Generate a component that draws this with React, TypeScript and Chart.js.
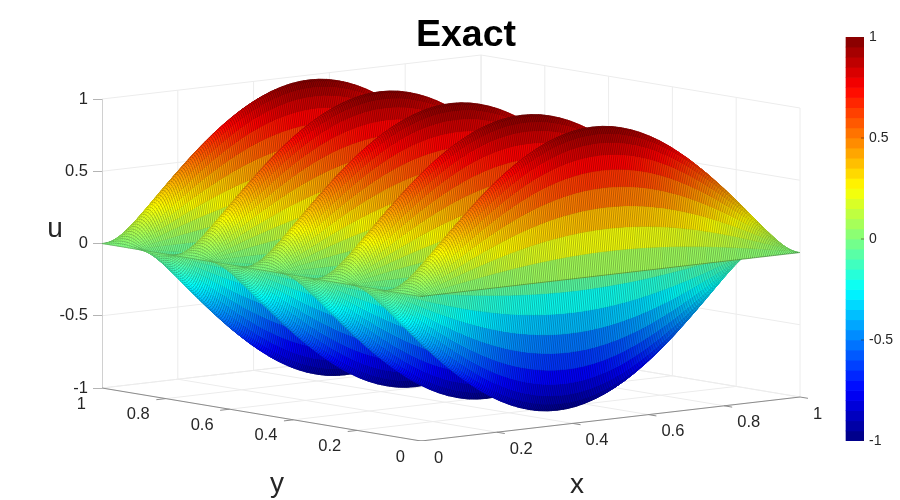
import React, { useEffect, useRef } from "react";
import { Chart, registerables } from "chart.js";

Chart.register(...registerables);

// ---- values ----
const xTicks = [0, 0.2, 0.4, 0.6, 0.8, 1];
const yTicks = [0, 0.2, 0.4, 0.6, 0.8, 1];
const uTicks = [-1, -0.5, 0, 0.5, 1];
const xStations = [
  0, 0.025, 0.05, 0.075, 0.1, 0.125, 0.15, 0.175, 0.2, 0.225, 0.25, 0.275, 0.3, 0.325, 0.35, 0.375, 0.4, 0.425, 0.45, 0.475, 0.5,
  0.525, 0.55, 0.575, 0.6, 0.625, 0.65, 0.675, 0.7, 0.725, 0.75, 0.775, 0.8, 0.825, 0.85, 0.875, 0.9, 0.925, 0.95, 0.975, 1,
];
const xProfile = [
  0, 0.078, 0.156, 0.233, 0.309, 0.383, 0.454, 0.522, 0.588, 0.649, 0.707, 0.76, 0.809, 0.853, 0.891, 0.924, 0.951, 0.972, 0.988, 0.997, 1,
  0.997, 0.988, 0.972, 0.951, 0.924, 0.891, 0.853, 0.809, 0.76, 0.707, 0.649, 0.588, 0.522, 0.454, 0.383, 0.309, 0.233, 0.156, 0.078, 0,
];
// one full wave along y, in 40 mesh steps
const yWaveCycle = [
  0, 0.156, 0.309, 0.454, 0.588, 0.707, 0.809, 0.891, 0.951, 0.988, 1, 0.988, 0.951, 0.891, 0.809, 0.707, 0.588, 0.454, 0.309, 0.156,
  0, -0.156, -0.309, -0.454, -0.588, -0.707, -0.809, -0.891, -0.951, -0.988, -1, -0.988, -0.951, -0.891, -0.809, -0.707, -0.588, -0.454, -0.309, -0.156,
];
const yMeshSteps = 180; // 4.5 waves over y = 0..1

const barLevelCount = 40;
const surfaceLevelCount = 256;

// ---- rendering constants ----
const FONT = '"Liberation Sans", Arial, sans-serif';
const INK = "#262626";
const GRID = "#ececec";
const AXIS = "#8c8c8c";
const X_SUBDIV = 5;

// view of the box: projected axis units of the chart's two scales
const project = (x: number, y: number, z: number) => ({
  x: 421 + 379 * x - 319 * y,
  y: z + (53 * (y - 1) + 44 * x) / 144.5,
});

const jet = (u: number, levels: number) => {
  const lvl = Math.min(levels - 1, Math.floor(((u + 1) / 2) * levels));
  const t = (lvl + 0.5) / levels;
  const c = (v: number) => Math.round(255 * Math.max(0, Math.min(1, v)));
  const r = c(Math.min(4 * t - 1.5, -4 * t + 4.5));
  const g = c(Math.min(4 * t - 0.5, -4 * t + 3.5));
  const b = c(Math.min(4 * t + 0.5, -4 * t + 2.5));
  return `rgb(${r},${g},${b})`;
};

// table of u on the mesh, built from the two profiles
const yNodes = Array.from({ length: yMeshSteps + 1 }, (_, k) => k);
const uTable = yNodes.map((k) => xProfile.map((p) => p * yWaveCycle[k % yWaveCycle.length]));

const line = (pts: number[][], color: string, width = 1) => ({
  type: "line",
  data: pts.map(([x, y, z]) => project(x, y, z)),
  borderColor: color,
  borderWidth: width,
  pointRadius: 0,
  fill: false,
  xAxisID: "x",
  yAxisID: "y",
});

const surfacePlugin = {
  id: "surface",
  beforeDatasetDraw(chart: any, args: any) {
    const ds = chart.data.datasets[args.index];
    if (ds.meshRow === undefined || ds.meshRow >= yMeshSteps) return;
    const j = ds.meshRow;
    const near = args.meta.data;
    const far = chart.getDatasetMeta(args.index + 1).data;
    const ctx = chart.ctx;
    const uNear = uTable[j];
    const uFar = uTable[j + 1];
    const n = xStations.length - 1;
    const pt = (row: any[], i: number, s: number) => ({
      x: row[i].x + ((row[i + 1].x - row[i].x) * s) / X_SUBDIV,
      y: row[i].y + ((row[i + 1].y - row[i].y) * s) / X_SUBDIV,
    });
    const cellU = (i: number, s: number) => {
      const a = uNear[i] + (uNear[i + 1] - uNear[i]) * ((s + 0.5) / X_SUBDIV);
      const b = uFar[i] + (uFar[i + 1] - uFar[i]) * ((s + 0.5) / X_SUBDIV);
      return (a + b) / 2;
    };
    ctx.save();
    const seams: any[] = [];
    let color: string | null = null;
    let top: any[] = [];
    let bot: any[] = [];
    const flush = () => {
      if (!color || top.length < 2) return;
      ctx.beginPath();
      top.forEach((p, k) => (k ? ctx.lineTo(p.x, p.y) : ctx.moveTo(p.x, p.y)));
      for (let k = bot.length - 1; k >= 0; k--) ctx.lineTo(bot[k].x, bot[k].y);
      ctx.closePath();
      ctx.fillStyle = color;
      ctx.strokeStyle = color;
      ctx.lineWidth = 0.6;
      ctx.fill();
      ctx.stroke();
    };
    for (let i = n - 1; i >= 0; i--) {
      for (let s = X_SUBDIV - 1; s >= 0; s--) {
        const c = jet(cellU(i, s), surfaceLevelCount);
        const hiA = pt(near, i, s + 1);
        const hiB = pt(far, i, s + 1);
        const loA = pt(near, i, s);
        const loB = pt(far, i, s);
        if (c !== color) {
          flush();
          color = c;
          top = [hiA];
          bot = [hiB];
        }
        top.push(loA);
        bot.push(loB);
        seams.push([loA, loB]);
      }
    }
    flush();
    ctx.beginPath();
    for (const [a, b] of seams) {
      ctx.moveTo(a.x, a.y);
      ctx.lineTo(b.x, b.y);
    }
    ctx.strokeStyle = "rgba(0,0,0,0.3)";
    ctx.lineWidth = 0.9;
    ctx.stroke();
    ctx.restore();
  },
  afterDraw(chart: any) {
    const ctx = chart.ctx;
    const sx = chart.scales.x;
    const sy = chart.scales.y;
    const at = (x: number, y: number, z: number) => {
      const p = project(x, y, z);
      return { x: sx.getPixelForValue(p.x), y: sy.getPixelForValue(p.y) };
    };
    ctx.save();
    ctx.fillStyle = INK;
    ctx.textBaseline = "middle";
    ctx.font = `16.5px ${FONT}`;
    ctx.textAlign = "left";
    for (const t of xTicks) {
      const p = at(t, 0, -1);
      ctx.fillText(String(t), p.x + 13, p.y + 17);
    }
    ctx.textAlign = "right";
    for (const t of yTicks) {
      const p = at(0, t, -1);
      ctx.fillText(String(t), p.x - 16, p.y + 16);
    }
    ctx.textAlign = "center";
    ctx.font = `28px ${FONT}`;
    ctx.fillText("x", 577, 485.5);
    ctx.fillText("y", 277, 484);
    ctx.fillText("u", 55, 229.5);
    ctx.fillStyle = "#000";
    ctx.font = `bold 37.5px ${FONT}`;
    ctx.fillText("Exact", 466, 36);
    ctx.restore();
  },
};

export default function App() {
  const ref = useRef<HTMLCanvasElement | null>(null);
  useEffect(() => {
    document.body.style.margin = "0";
    const surface = yNodes.map((k) => ({
      type: "line",
      meshRow: k,
      data: xStations.map((x, i) => project(x, k / yMeshSteps, uTable[k][i])),
      borderColor: "rgba(0,0,0,0.5)",
      borderWidth: 0.6,
      pointRadius: 0,
      fill: false,
      xAxisID: "x",
      yAxisID: "y",
    }));

    const grid: any[] = [];
    for (const t of xTicks) {
      grid.push(line([[t, 0, -1], [t, 1, -1]], GRID));
      grid.push(line([[t, 1, -1], [t, 1, 1]], GRID));
    }
    for (const t of yTicks) {
      grid.push(line([[0, t, -1], [1, t, -1]], GRID));
      grid.push(line([[1, t, -1], [1, t, 1]], GRID));
    }
    for (const t of uTicks) {
      grid.push(line([[0, 1, t], [1, 1, t], [1, 0, t]], GRID));
    }
    const axes = [
      line([[0, 1, -1], [0, 1, 1]], "#ababab"),
      line([[0, 1, -1], [0, 0, -1], [1, 0, -1]], AXIS),
      ...xTicks.map((t) => line([[t, 0, -1], [t, -0.025, -1]], AXIS)),
      ...yTicks.map((t) => line([[0, t, -1], [-0.025, t, -1]], AXIS)),
    ];

    const barLevels = Array.from({ length: barLevelCount }, (_, i) => i);
    const colorbar = {
      type: "bar",
      data: barLevels.map((i) => ({
        x: 855,
        y: [-1 + (2 * i) / barLevelCount, -1 + (2 * (i + 1)) / barLevelCount],
      })),
      backgroundColor: barLevels.map((i) => jet(-1 + (2 * (i + 0.5)) / barLevelCount, barLevelCount)),
      borderWidth: 0,
      barThickness: 18,
      grouped: false,
      xAxisID: "x",
      yAxisID: "yBar",
    };
    const barTicks = {
      type: "line",
      data: uTicks.flatMap((t) => [{ x: 861, y: t }, { x: 864, y: t }, { x: 864, y: NaN }]),
      borderColor: "rgba(60,30,20,0.55)",
      borderWidth: 1,
      pointRadius: 0,
      spanGaps: false,
      xAxisID: "x",
      yAxisID: "yBar",
    };

    const chart = new Chart(ref.current as HTMLCanvasElement, {
      type: "scatter",
      data: { datasets: [barTicks, colorbar, ...surface, ...axes, ...grid] as any },
      options: {
        animation: false,
        responsive: false,
        devicePixelRatio: 1,
        layout: { padding: { left: 42, right: 0, top: 37, bottom: 59 } },
        plugins: { legend: { display: false }, tooltip: { enabled: false } },
        events: [],
        scales: {
          x: { type: "linear", display: false, min: 102, max: 864, offset: false },
          y: {
            type: "linear",
            position: "left",
            min: (243.5 - 441) / 144.5,
            max: (243.5 - 37) / 144.5,
            afterBuildTicks: (s: any) => {
              s.ticks = uTicks.map((value) => ({ value }));
            },
            afterFit: (s: any) => {
              s.width = 60;
            },
            border: { display: false },
            grid: { drawOnChartArea: false, drawTicks: true, tickLength: 9, color: "#b4b4b4" },
            ticks: {
              autoSkip: false,
              padding: 5,
              color: INK,
              font: { family: FONT, size: 16.5 },
              callback: (v: any) => String(v),
            },
          },
          yBar: {
            type: "linear",
            position: "right",
            min: -1,
            max: 1,
            afterBuildTicks: (s: any) => {
              s.ticks = uTicks.map((value) => ({ value }));
            },
            afterFit: (s: any) => {
              s.width = 36;
            },
            border: { display: false },
            grid: { display: false, drawTicks: false },
            ticks: {
              autoSkip: false,
              padding: 5,
              color: INK,
              font: { family: FONT, size: 14 },
              callback: (v: any) => String(v),
            },
          },
        },
      } as any,
      plugins: [surfacePlugin as any],
    });
    return () => chart.destroy();
  }, []);
  return <canvas ref={ref} width={900} height={500} style={{ display: "block", width: 900, height: 500 }} />;
}
